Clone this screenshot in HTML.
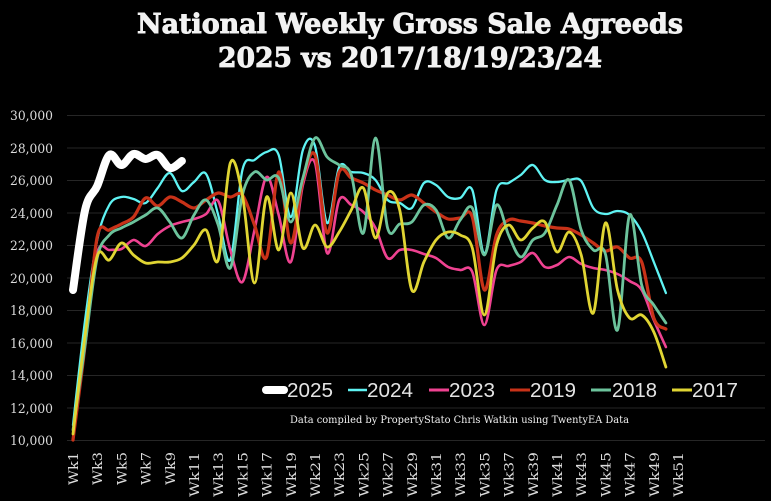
<!DOCTYPE html>
<html>
<head>
<meta charset="utf-8">
<style>
  html,body{margin:0;padding:0;background:#000;}
  svg{display:block;}
</style>
</head>
<body>
<svg id="chart" xmlns="http://www.w3.org/2000/svg" width="771" height="501" viewBox="0 0 771 501">
  <rect x="0" y="0" width="771" height="501" fill="#000"/>
  <!-- Title -->
  <text x="137" y="33" font-family="'DejaVu Serif', 'Liberation Serif', serif" font-weight="bold" font-size="27" fill="#f2f2f2" stroke="#f2f2f2" stroke-width="0.9" textLength="546" lengthAdjust="spacingAndGlyphs">National Weekly Gross Sale Agreeds</text>
  <text x="218" y="67" font-family="'DejaVu Serif', 'Liberation Serif', serif" font-weight="bold" font-size="27" fill="#f2f2f2" stroke="#f2f2f2" stroke-width="0.9" textLength="384" lengthAdjust="spacingAndGlyphs">2025 vs 2017/18/19/23/24</text>

  <!-- Gridlines -->
  <g stroke="#262626" stroke-width="1">
    <line x1="67" y1="115.5" x2="765" y2="115.5"/>
    <line x1="67" y1="148" x2="765" y2="148"/>
    <line x1="67" y1="180.5" x2="765" y2="180.5"/>
    <line x1="67" y1="213" x2="765" y2="213"/>
    <line x1="67" y1="245.5" x2="765" y2="245.5"/>
    <line x1="67" y1="278" x2="765" y2="278"/>
    <line x1="67" y1="310.5" x2="765" y2="310.5"/>
    <line x1="67" y1="343" x2="765" y2="343"/>
    <line x1="67" y1="375.5" x2="765" y2="375.5"/>
    <line x1="67" y1="408" x2="765" y2="408"/>
    <line x1="67" y1="440.5" x2="765" y2="440.5"/>
  </g>

  <!-- Y labels -->
  <g font-family="'DejaVu Serif', 'Liberation Serif', serif" font-size="13" fill="#dcdcdc" text-anchor="end">
    <text x="53" y="120" textLength="43" lengthAdjust="spacingAndGlyphs">30,000</text>
    <text x="53" y="153" textLength="43" lengthAdjust="spacingAndGlyphs">28,000</text>
    <text x="53" y="185" textLength="43" lengthAdjust="spacingAndGlyphs">26,000</text>
    <text x="53" y="218" textLength="43" lengthAdjust="spacingAndGlyphs">24,000</text>
    <text x="53" y="250" textLength="43" lengthAdjust="spacingAndGlyphs">22,000</text>
    <text x="53" y="283" textLength="43" lengthAdjust="spacingAndGlyphs">20,000</text>
    <text x="53" y="315" textLength="43" lengthAdjust="spacingAndGlyphs">18,000</text>
    <text x="53" y="348" textLength="43" lengthAdjust="spacingAndGlyphs">16,000</text>
    <text x="53" y="380" textLength="43" lengthAdjust="spacingAndGlyphs">14,000</text>
    <text x="53" y="413" textLength="43" lengthAdjust="spacingAndGlyphs">12,000</text>
    <text x="53" y="445" textLength="43" lengthAdjust="spacingAndGlyphs">10,000</text>
  </g>

  <!-- X labels container -->
  <g id="xlabels" font-family="'DejaVu Serif', 'Liberation Serif', serif" font-size="13" fill="#dcdcdc" text-anchor="end"></g>

  <!-- Series container -->
  <g id="series" fill="none" stroke-linecap="round" stroke-linejoin="round"></g>

  <!-- Legend -->
  <g font-family="'Liberation Sans', Arial, sans-serif" font-size="20" fill="#e4e4e4">
    <line x1="266" y1="390" x2="284" y2="390" stroke="#ffffff" stroke-width="8" stroke-linecap="round"/>
    <text x="287" y="397" textLength="46" lengthAdjust="spacingAndGlyphs">2025</text>
    <line x1="348" y1="390" x2="367" y2="390" stroke="#5ff3f3" stroke-width="2.5"/>
    <text x="367" y="397" textLength="46" lengthAdjust="spacingAndGlyphs">2024</text>
    <line x1="429" y1="390" x2="449" y2="390" stroke="#ef4291" stroke-width="3"/>
    <text x="449" y="397" textLength="46" lengthAdjust="spacingAndGlyphs">2023</text>
    <line x1="510" y1="390" x2="530" y2="390" stroke="#c83218" stroke-width="3"/>
    <text x="530" y="397" textLength="46" lengthAdjust="spacingAndGlyphs">2019</text>
    <line x1="591" y1="390" x2="611" y2="390" stroke="#6cc39c" stroke-width="3"/>
    <text x="612" y="397" textLength="45" lengthAdjust="spacingAndGlyphs">2018</text>
    <line x1="672" y1="390" x2="692" y2="390" stroke="#e0d533" stroke-width="3"/>
    <text x="692" y="397" textLength="46" lengthAdjust="spacingAndGlyphs">2017</text>
  </g>

  <!-- Source -->
  <text x="290" y="423" font-family="'DejaVu Serif', 'Liberation Serif', serif" font-size="10" fill="#f0f0f0" textLength="339" lengthAdjust="spacingAndGlyphs">Data compiled by PropertyStato Chris Watkin using TwentyEA Data</text>
</svg>

<script>
(function(){
  var NS = "http://www.w3.org/2000/svg";
  function X(n){ return 73 + (n-1)*12.1; }

  var xl = document.getElementById('xlabels');
  for (var n=1; n<=51; n+=2){
    var t = document.createElementNS(NS,'text');
    var cx = X(n);
    t.setAttribute('x', 0);
    t.setAttribute('y', 0);
    t.setAttribute('transform','translate(' + (cx+5).toFixed(1) + ',452) rotate(-90)');
    t.setAttribute('textLength', n<10 ? 33 : 45);
    t.setAttribute('lengthAdjust','spacingAndGlyphs');
    t.textContent = 'Wk' + n;
    xl.appendChild(t);
  }

  function pathFor(ys){
    var pts = ys.map(function(y,i){ return [X(i+1), y]; });
    var d = 'M' + pts[0][0].toFixed(1) + ' ' + pts[0][1].toFixed(1);
    for (var i=0; i<pts.length-1; i++){
      var p0 = pts[i-1] || pts[i];
      var p1 = pts[i];
      var p2 = pts[i+1];
      var p3 = pts[i+2] || pts[i+1];
      var c1x = p1[0] + (p2[0]-p0[0])/6, c1y = p1[1] + (p2[1]-p0[1])/6;
      var c2x = p2[0] - (p3[0]-p1[0])/6, c2y = p2[1] - (p3[1]-p1[1])/6;
      d += ' C' + c1x.toFixed(1) + ' ' + c1y.toFixed(1) + ' ' + c2x.toFixed(1) + ' ' + c2y.toFixed(1) + ' ' + p2[0].toFixed(1) + ' ' + p2[1].toFixed(1);
    }
    return d;
  }

  var series = [
    {c:'#5ff3f3', w:2.3, y:[425,320,240,205,197,199,203,188,173,191,182,174,215,260,170,160,152,155,217,150,146,223,167,172,173,180,200,203,208,183,185,197,198,190,253,190,183,175,165,180,182,180,181,208,214,211,215,232,262,293]},
    {c:'#ef4291', w:2.6, y:[440,340,253,250,249,240,246,234,226,222,219,214,201,250,282,230,177,215,262,185,163,253,200,205,212,228,258,250,250,254,258,267,270,272,325,270,266,262,253,267,265,257,264,268,270,274,281,290,320,347]},
    {c:'#c83218', w:3.2, y:[440,345,237,230,224,217,198,206,197,202,208,200,193,197,195,225,257,172,243,180,155,233,172,178,183,190,195,200,195,203,212,219,218,217,290,235,220,221,223,226,228,229,235,243,251,247,258,262,318,329]},
    {c:'#6cc39c', w:2.8, y:[430,345,258,235,228,222,215,208,222,238,215,200,225,268,195,172,180,178,222,178,138,157,165,175,233,138,228,224,222,205,210,238,220,208,255,205,235,257,240,233,205,180,230,250,254,330,215,285,305,323]},
    {c:'#e0d533', w:2.8, y:[434,335,256,260,243,255,263,262,262,258,245,230,260,163,195,283,197,250,193,248,225,247,232,210,188,238,193,210,290,262,240,232,235,248,315,245,225,240,228,222,252,232,255,313,223,290,318,315,332,367]},
    {c:'#ffffff', w:8, y:[290,210,186,155,165,154,159,155,168,161]}
  ];

  var g = document.getElementById('series');
  series.forEach(function(s){
    var p = document.createElementNS(NS,'path');
    p.setAttribute('d', pathFor(s.y));
    p.setAttribute('stroke', s.c);
    p.setAttribute('stroke-width', s.w);
    g.appendChild(p);
  });
})();
</script>
</body>
</html>
